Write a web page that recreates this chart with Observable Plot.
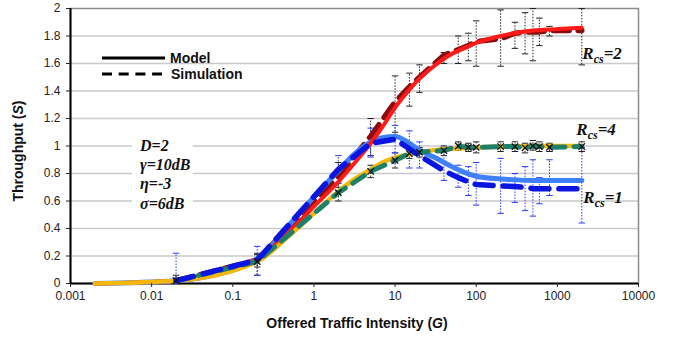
<!DOCTYPE html>
<html><head><meta charset="utf-8">
<script src="https://cdn.jsdelivr.net/npm/d3@7"></script>
<script src="https://cdn.jsdelivr.net/npm/@observablehq/plot@0.6"></script>
<style>
body{margin:0;background:#fff;}
#chart{position:relative;width:676px;height:337px;}
</style></head><body><div id="chart"></div>
<script>
// ---- data ----
const modelG  = [0.002, 0.02, 0.2, 0.5, 1, 2, 3, 5, 7, 10, 15, 20, 30, 50, 70, 100, 200, 500, 1000, 2000];
const modelR2 = [0, 0.02, 0.18, 0.38, 0.56, 0.74, 0.86, 1.02, 1.14, 1.28, 1.41, 1.49, 1.58, 1.67, 1.71, 1.75, 1.80, 1.84, 1.85, 1.86];
const modelR4 = [0, 0.02, 0.16, 0.35, 0.51, 0.67, 0.75, 0.83, 0.88, 0.915, 0.94, 0.955, 0.97, 0.98, 0.985, 0.99, 0.995, 1.0, 1.0, 1.0];
const modelR1 = [0, 0.02, 0.18, 0.43, 0.63, 0.82, 0.93, 1.03, 1.06, 1.07, 1.02, 0.97, 0.92, 0.85, 0.81, 0.78, 0.76, 0.75, 0.75, 0.75];

const simG   = [0.02, 0.2, 2, 5, 10, 15, 20, 40, 60, 80, 100, 200, 300, 400, 500, 600, 800, 2000];
const simR2   = [0.02, 0.17, 0.78, 1.07, 1.32, 1.43, 1.50, 1.66, 1.70, 1.73, 1.76, 1.78, 1.82, 1.83, 1.83, 1.83, 1.84, 1.84];
const simR2Lo = [0.01, 0.12, 0.70, 0.93, 1.10, 1.29, 1.39, 1.60, 1.60, 1.62, 1.58, 1.58, 1.71, 1.67, 1.62, 1.73, 1.80, 1.59];
const simR2Hi = [0.04, 0.22, 0.88, 1.20, 1.51, 1.53, 1.59, 1.68, 1.80, 1.82, 1.91, 1.99, 1.90, 1.97, 2.00, 1.93, 1.87, 2.00];
const simR4   = [0.02, 0.16, 0.66, 0.815, 0.895, 0.945, 0.955, 0.967, 1.0, 0.99, 0.99, 0.996, 0.996, 0.987, 1.0, 0.996, 0.99, 0.996];
const simR4Lo = [0.0, 0.06, 0.60, 0.77, 0.84, 0.91, 0.92, 0.93, 0.97, 0.96, 0.95, 0.96, 0.96, 0.95, 0.97, 0.96, 0.96, 0.96];
const simR4Hi = [0.06, 0.21, 0.73, 0.86, 0.95, 0.98, 0.99, 1.0, 1.03, 1.02, 1.03, 1.03, 1.03, 1.02, 1.04, 1.03, 1.02, 1.03];
const simR1   = [0.02, 0.17, 0.83, 1.02, 1.05, 0.98, 0.93, 0.82, 0.77, 0.74, 0.72, 0.71, 0.705, 0.70, 0.69, 0.69, 0.69, 0.69];
const simR1Lo = [0.0, 0.06, 0.73, 0.92, 0.95, 0.84, 0.84, 0.75, 0.70, 0.64, 0.57, 0.51, 0.59, 0.53, 0.49, 0.58, 0.64, 0.44];
const simR1Hi = [0.22, 0.27, 0.93, 1.13, 1.15, 1.11, 1.03, 0.98, 0.86, 0.85, 0.88, 0.91, 0.80, 0.85, 0.90, 0.77, 0.90, 0.99];

const xTicks = [0.001, 0.01, 0.1, 1, 10, 100, 1000, 10000];
const yTicks = [0, 0.2, 0.4, 0.6, 0.8, 1, 1.2, 1.4, 1.6, 1.8, 2];
const paramLines = ["D=2", "γ=10dB", "η=-3", "σ=6dB"];
const seriesLabels = ["2", "4", "1"];
const legendLabels = ["Model", "Simulation"];
const xTitle = ["Offered Traffic Intensity (", "G", ")"];
const yTitle = ["Throughput (", "S", ")"];

// ---- tables ----
const model = ys => modelG.map((G, i) => ({G, S: ys[i]}));
const sim = (ys, lo, hi) => simG.map((G, i) => ({G, S: ys[i], lo: lo[i], hi: hi[i]}));
const m2 = model(modelR2), m4 = model(modelR4), m1 = model(modelR1);
const s2 = sim(simR2, simR2Lo, simR2Hi), s4 = sim(simR4, simR4Lo, simR4Hi), s1 = sim(simR1, simR1Lo, simR1Hi);

const cap = {draw(ctx, size) { const r = Math.sqrt(size / Math.PI); ctx.moveTo(-r, 0); ctx.lineTo(r, 0); }};
const bars = (data, color) => [
  Plot.ruleX(data, {x: "G", y1: "lo", y2: "hi", stroke: color, strokeWidth: 1, strokeDasharray: "1.5,1.5"}),
  Plot.dot(data, {x: "G", y: "lo", symbol: cap, r: 3.2, stroke: color, fill: "none", strokeWidth: 1}),
  Plot.dot(data, {x: "G", y: "hi", symbol: cap, r: 3.2, stroke: color, fill: "none", strokeWidth: 1})
];

const plot = Plot.plot({
  width: 676, height: 337,
  marginTop: 8, marginRight: 38, marginBottom: 54, marginLeft: 70,
  style: {fontFamily: "'Liberation Sans', Arial, sans-serif", fontSize: "12px", color: "#222", background: "white", overflow: "visible"},
  x: {type: "log", domain: [0.001, 10000]},
  y: {domain: [0, 2]},
  marks: [
    Plot.ruleY(yTicks.filter(d => d > 0 && d < 2), {stroke: "#c9c9c9", strokeWidth: 1.5}),
    Plot.frame({stroke: "#8c8c8c", strokeWidth: 1.5}),
    Plot.ruleX([xTicks[0]], {stroke: "#000", strokeWidth: 2}),
    Plot.ruleY([yTicks[0]], {stroke: "#000", strokeWidth: 2}),
    ...bars(s2, "#222"),
    ...bars(s4, "#222"),
    ...bars(s1, "#2a3cff"),
    Plot.line(s2, {x: "G", y: "S", stroke: "#8a0c0c", strokeWidth: 5.5, strokeDasharray: "16,9"}),
    Plot.line(m1, {x: "G", y: "S", stroke: "#3f80ff", strokeWidth: 5, curve: "monotone-x"}),
    Plot.line(m2, {x: "G", y: "S", stroke: "#ff1a1a", strokeWidth: 4, curve: "monotone-x"}),
    Plot.line(m4, {x: "G", y: "S", stroke: "#f4b80d", strokeWidth: 4.5, curve: "monotone-x"}),
    Plot.line(s4, {x: "G", y: "S", stroke: "#1d8069", strokeWidth: 5, strokeDasharray: "14,9"}),
    Plot.line(s1, {x: "G", y: "S", stroke: "#0a16e0", strokeWidth: 5.5, strokeDasharray: "18,10"}),
    Plot.dot(s4, {x: "G", y: "S", symbol: "times", r: 3, stroke: "#111", strokeWidth: 1.3}),
    Plot.axisX({ticks: xTicks, tickSize: 4, tickPadding: 4, tickFormat: d => String(d), label: null}),
    Plot.axisY({ticks: yTicks, tickSize: 4, tickPadding: 6, tickFormat: d => String(d), label: null})
  ]
});
document.getElementById("chart").appendChild(plot);

const svg = d3.select(plot);
const X = plot.scale("x"), Y = plot.scale("y");
const serif = "'Liberation Serif', 'Times New Roman', serif";
const sans = "'Liberation Sans', Arial, sans-serif";

// parameter box
const pg = svg.append("g");
const prect = pg.append("rect").attr("fill", "white");
const ptext = pg.append("text").attr("text-anchor", "start").attr("font-family", serif).attr("font-size", 16).attr("font-weight", "bold").attr("font-style", "italic").attr("fill", "#111");
paramLines.forEach((t, i) => ptext.append("tspan").attr("x", 140).attr("y", 150.5 + i * 19.4).text(t));
const bb = ptext.node().getBBox();
prect.attr("x", bb.x - 7).attr("y", bb.y - 3).attr("width", bb.width + 9).attr("height", bb.height + 6);

// series labels anchored at last simulation point
const labelSpecs = [[s2, 1, 23], [s4, -5, -17], [s1, 2, 9]];
labelSpecs.forEach(([d, dx, dy], i) => {
  const last = d[d.length - 1];
  const t = svg.append("text").attr("text-anchor", "start").attr("font-family", serif).attr("font-size", 17).attr("font-style", "italic").attr("font-weight", "bold").attr("fill", "#111")
    .attr("x", X.apply(last.G) + dx).attr("y", Y.apply(last.S) + dy + 6);
  t.append("tspan").text("R");
  t.append("tspan").attr("font-size", 12).attr("dy", 4).text("cs");
  t.append("tspan").attr("dy", -4).text("=" + seriesLabels[i]);
});

// legend
const lg = svg.append("g");
lg.append("line").attr("x1", 102).attr("x2", 165).attr("y1", 58).attr("y2", 58).attr("stroke", "#000").attr("stroke-width", 3);
lg.append("line").attr("x1", 102).attr("x2", 162).attr("y1", 74).attr("y2", 74).attr("stroke", "#000").attr("stroke-width", 3).attr("stroke-dasharray", "10,6.7");
legendLabels.forEach((t, i) => lg.append("text").attr("text-anchor", "start").attr("x", 170 + i).attr("y", 58 + i * 16).attr("dy", "0.35em")
  .attr("font-family", sans).attr("font-size", 14).attr("font-weight", "bold").attr("fill", "#111").text(t));

// axis titles
const xt = svg.append("text").attr("x", 357).attr("y", 328).attr("text-anchor", "middle")
  .attr("font-family", sans).attr("font-size", 14).attr("font-weight", "bold").attr("fill", "#111");
xt.append("tspan").text(xTitle[0]); xt.append("tspan").attr("font-style", "italic").text(xTitle[1]); xt.append("tspan").text(xTitle[2]);
const yt = svg.append("text").attr("transform", "translate(23,151) rotate(-90)").attr("text-anchor", "middle")
  .attr("font-family", sans).attr("font-size", 14).attr("font-weight", "bold").attr("fill", "#111");
yt.append("tspan").text(yTitle[0]); yt.append("tspan").attr("font-style", "italic").text(yTitle[1]); yt.append("tspan").text(yTitle[2]);
</script></body></html>
